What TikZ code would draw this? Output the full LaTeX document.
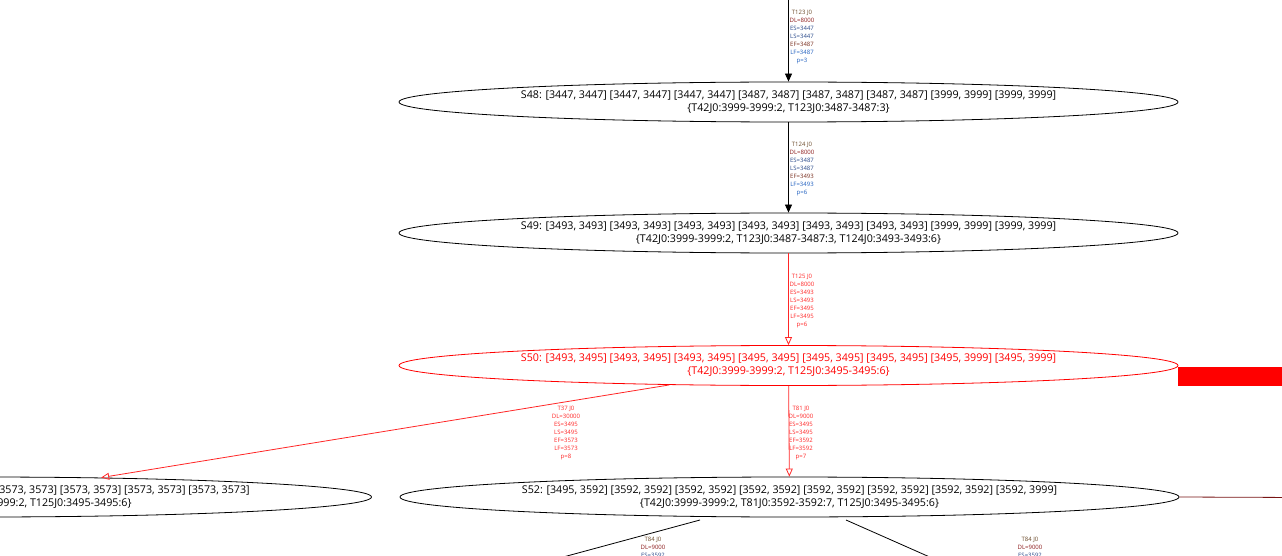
\documentclass[tikz,border=0pt]{standalone}
\usepackage{fontspec}
\setmainfont{Open Sans}
\usetikzlibrary{shapes.geometric,arrows.meta}

\definecolor{blkname}{RGB}{107,74,42}
\definecolor{blkdl}{RGB}{139,26,26}
\definecolor{blkes}{RGB}{42,74,138}
\definecolor{blkls}{RGB}{42,74,138}
\definecolor{blkef}{RGB}{122,48,32}
\definecolor{blklf}{RGB}{31,95,191}
\definecolor{blkp}{RGB}{31,95,191}
\colorlet{redname}{red!85}
\colorlet{reddl}{red!85}
\colorlet{redes}{red!85}
\colorlet{redls}{red!85}
\colorlet{redef}{red!85}
\colorlet{redlf}{red!85}
\colorlet{redp}{red!85}
\definecolor{linkdark}{RGB}{120,20,20}

% task label on an edge: colour set, task, DL, ES, LS, EF, LF, p
\newcommand{\tjinfo}[8]{\textcolor{#1name}{#2}\\\textcolor{#1dl}{DL=#3}\\\textcolor{#1es}{ES=#4}\\\textcolor{#1ls}{LS=#5}\\\textcolor{#1ef}{EF=#6}\\\textcolor{#1lf}{LF=#7}\\\textcolor{#1p}{p=#8}}

\tikzset{
  state/.style={ellipse, draw=black, line width=0.8pt, minimum width=779pt, minimum height=40pt,
    inner sep=0pt, align=center, font=\fontsize{10.7}{13}\selectfont},
  hotstate/.style={state, draw=red, text=red},
  tjlbl/.style={align=center, inner sep=0pt, font=\fontsize{6}{8}\selectfont},
  link/.style={draw=black, line width=0.8pt, -{Triangle[length=8pt,width=7pt]}},
  hotlink/.style={draw=red!85, line width=0.8pt, -{Triangle[open,length=8pt,width=7pt]}}
}

\begin{document}
\begin{tikzpicture}[x=1pt,y=-1pt]
\useasboundingbox (0,0) rectangle (1282,556);
\clip (0,0) rectangle (1282,556);

\node[state] (S48) at (788.5,102) {S48: [3447, 3447] [3447, 3447] [3447, 3447] [3487, 3487] [3487, 3487] [3487, 3487] [3999, 3999] [3999, 3999]\\{\{}T42J0:3999-3999:2, T123J0:3487-3487:3{\}}};
\node[state] (S49) at (788.5,233) {S49: [3493, 3493] [3493, 3493] [3493, 3493] [3493, 3493] [3493, 3493] [3493, 3493] [3999, 3999] [3999, 3999]\\{\{}T42J0:3999-3999:2, T123J0:3487-3487:3, T124J0:3493-3493:6{\}}};
\node[hotstate] (S50) at (788.5,365.5) {S50: [3493, 3495] [3493, 3495] [3493, 3495] [3495, 3495] [3495, 3495] [3495, 3495] [3495, 3999] [3495, 3999]\\{\{}T42J0:3999-3999:2, T125J0:3495-3495:6{\}}};
\node[state] (S51) at (-18,497) {S51: [3495, 3573] [3573, 3573] [3573, 3573] [3573, 3573] [3573, 3573] [3573, 3573] [3573, 3573] [3573, 3573]\\{\{}T37J0:3573-3573:8, T42J0:3999-3999:2, T125J0:3495-3495:6{\}}};
\node[state] (S52) at (789.5,497) {S52: [3495, 3592] [3592, 3592] [3592, 3592] [3592, 3592] [3592, 3592] [3592, 3592] [3592, 3592] [3592, 3999]\\{\{}T42J0:3999-3999:2, T81J0:3592-3592:7, T125J0:3495-3495:6{\}}};

\coordinate (in48) at (788.5,-10);
\coordinate (s50r) at (1178,376.5);
\coordinate (out50) at (1300,376.5);
\coordinate (out52) at (1300,497.5);
\coordinate (s52a) at (700,520);
\coordinate (s52b) at (846,520);
\coordinate (down52a) at (530,566);
\coordinate (down52b) at (950,566);

\draw[link] (in48) -- (S48);
\draw[link] (S48) -- (S49);
\draw[hotlink] (S49) -- (S50);
\draw[hotlink] (S50) -- (S51);
\draw[hotlink] (S50) -- (S52);
\draw[red, line width=19pt] (s50r) -- (out50);
\draw[linkdark, line width=0.8pt] (S52.east) -- (out52);
\draw[black, line width=0.8pt] (s52a) -- (down52a);
\draw[black, line width=0.8pt] (s52b) -- (down52b);

\node[tjlbl] (t123) at (802,37) {\tjinfo{blk}{T123 J0}{8000}{3447}{3447}{3487}{3487}{3}};
\node[tjlbl] (t124) at (802,169) {\tjinfo{blk}{T124 J0}{8000}{3487}{3487}{3493}{3493}{6}};
\node[tjlbl] (t125) at (802,301) {\tjinfo{red}{T125 J0}{8000}{3493}{3493}{3495}{3495}{6}};
\node[tjlbl] (t37) at (566,433) {\tjinfo{red}{T37 J0}{30000}{3495}{3495}{3573}{3573}{8}};
\node[tjlbl] (t81) at (801,433) {\tjinfo{red}{T81 J0}{9000}{3495}{3495}{3592}{3592}{7}};
\node[tjlbl, anchor=north] (t84a) at (653,537) {\textcolor{blkname}{T84 J0}\\\textcolor{blkdl}{DL=9000}\\\textcolor{blkes}{ES=3592}};
\node[tjlbl, anchor=north] (t84b) at (1030,537) {\textcolor{blkname}{T84 J0}\\\textcolor{blkdl}{DL=9000}\\\textcolor{blkes}{ES=3592}};
\end{tikzpicture}
\end{document}
